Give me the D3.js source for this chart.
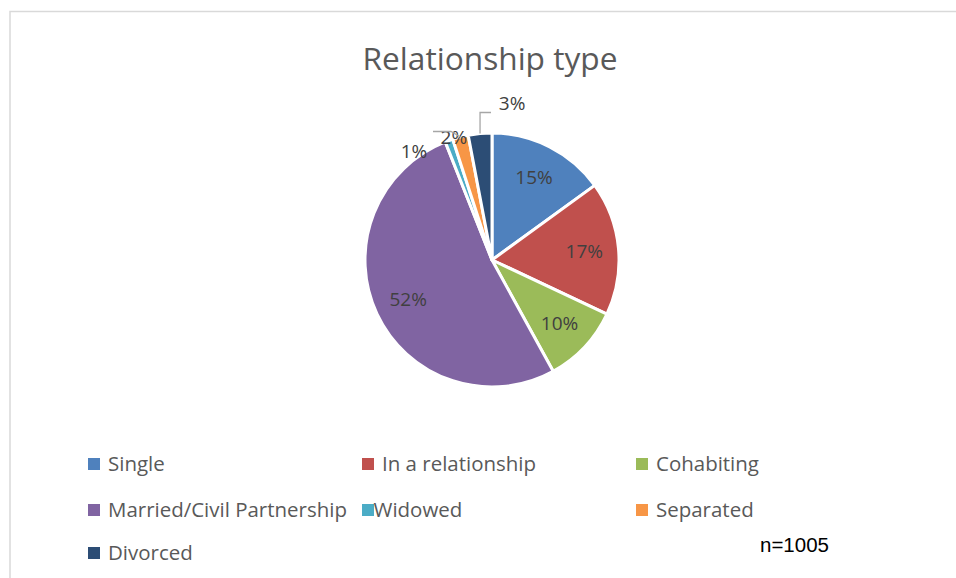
<!DOCTYPE html>
<html>
<head>
<meta charset="utf-8">
<script src="https://cdn.jsdelivr.net/npm/d3@7"></script>
<style>
  html, body { margin: 0; padding: 0; background: #fff; }
  svg { display: block; }
  text { font-family: "Open Sans", sans-serif; }
</style>
</head>
<body>
<svg id="chart" width="956" height="578"></svg>
<script>
// Relationship type of respondents (percent of n=1005)
const categories = ["Single", "In a relationship", "Cohabiting", "Married/Civil Partnership", "Widowed", "Separated", "Divorced"];
const percents   = [15, 17, 10, 52, 1, 2, 3];
const colors     = ["#4f81bd", "#c0504d", "#9bbb59", "#8064a2", "#4bacc6", "#f79646", "#2c4d75"];
const titleText  = "Relationship type";
const noteText   = "n=1005";

const W = 956, H = 578;
const svg = d3.select("#chart");

// Chart area frame (continues past the right and bottom edges)
svg.append("path")
  .attr("d", `M10,${H} L10,11.5 L${W},11.5`)
  .attr("fill", "none")
  .attr("stroke", "#d9d9d9")
  .attr("stroke-width", 1.5);

// Fit a text element's font size so its rendered width matches a target
function fitWidth(sel, target) {
  const base = parseFloat(sel.attr("font-size"));
  const w = sel.node().getComputedTextLength();
  if (w > 0) sel.attr("font-size", (base * target / w).toFixed(2));
  return sel;
}

// Title
const title = svg.append("text")
  .attr("x", 490).attr("y", 70)
  .attr("text-anchor", "middle")
  .attr("font-size", 28)
  .attr("fill", "#595959")
  .text(titleText);
fitWidth(title, 255);

// Pie
const cx = 492, cy = 260, R = 127;
const data = categories.map((c, i) => ({ name: c, value: percents[i], color: colors[i] }));
const pie = d3.pie().value(d => d.value).sort(null);
const arcs = pie(data);
const arc = d3.arc().innerRadius(0).outerRadius(R);

const g = svg.append("g").attr("transform", `translate(${cx},${cy})`);
g.selectAll("path.slice")
  .data(arcs)
  .join("path")
  .attr("class", "slice")
  .attr("d", arc)
  .attr("fill", d => d.data.color)
  .attr("stroke", "#fff")
  .attr("stroke-width", 3)
  .attr("stroke-linejoin", "round");

// Label font size fitted to the width of a two-digit label
const probe = g.append("text").attr("font-size", 19).text("15%");
const probeW = probe.node().getComputedTextLength();
const labelSize = 19 * 37.5 / probeW;
probe.remove();

// Inside labels for larger slices, outside labels (best-fit) for thin ones
const labelArc = d3.arc().innerRadius(R * 0.73).outerRadius(R * 0.73);
const outside = {
  // angle (degrees clockwise from 12 o'clock) and distance from the centre
  "Widowed":   { ang: -35.6, dist: 134 },
  "Separated": { ang: -17.2, dist: 129 },
  "Divorced":  { ang: 7.3,   dist: 158 }
};

arcs.forEach(a => {
  let x, y;
  const o = outside[a.data.name];
  if (o) {
    const t = o.ang * Math.PI / 180;
    x = Math.sin(t) * o.dist;
    y = -Math.cos(t) * o.dist;
  } else {
    [x, y] = labelArc.centroid(a);
  }
  g.append("text")
    .attr("x", x).attr("y", y)
    .attr("dy", "0.36em")
    .attr("text-anchor", "middle")
    .attr("font-size", labelSize.toFixed(2))
    .attr("fill", "#404040")
    .text(a.data.value + "%");
});

// Leader lines for the thin slices
const leader = d3.line();
const sepArc = arcs[5], divArc = arcs[6];
const edge = (a, r) => {
  const m = (a.startAngle + a.endAngle) / 2;
  return [Math.sin(m) * r, -Math.cos(m) * r];
};
const sEdge = edge(sepArc, R), dEdge = edge(divArc, R);
g.append("path")
  .attr("d", leader([[433 - cx, 131.5 - cy], [451 - cx, 131.5 - cy], sEdge]))
  .attr("fill", "none").attr("stroke", "#a6a6a6").attr("stroke-width", 1.3);
g.append("path")
  .attr("d", leader([[dEdge[0], dEdge[1]], [dEdge[0], 112.5 - cy], [491 - cx, 112.5 - cy]]))
  .attr("fill", "none").attr("stroke", "#a6a6a6").attr("stroke-width", 1.3);

// Legend: three columns, filled row by row
const colX = [88, 362, 636];
const rowY = [464, 510, 553];
const legend = svg.append("g");
let legendSize = 19;
{
  const t = legend.append("text").attr("font-size", 19).text(categories[3]);
  legendSize = 19 * 239 / t.node().getComputedTextLength();
  t.remove();
}
data.forEach((d, i) => {
  const x = colX[i % 3], y = rowY[Math.floor(i / 3)];
  legend.append("rect")
    .attr("x", x).attr("y", y - 6)
    .attr("width", 12).attr("height", 12)
    .attr("fill", d.color);
  legend.append("text")
    .attr("x", x + (d.name === "Widowed" ? 11.5 : 20))
    .attr("y", y)
    .attr("dy", "0.35em")
    .attr("font-size", legendSize.toFixed(2))
    .attr("fill", "#595959")
    .text(d.name);
});

// Sample size note
const note = svg.append("text")
  .attr("x", 760).attr("y", 552)
  .attr("font-family", "'Liberation Sans', Arial, sans-serif")
  .style("font-family", "'Liberation Sans', Arial, sans-serif")
  .attr("font-size", 19)
  .attr("fill", "#000")
  .text(noteText);
fitWidth(note, 69);
</script>
</body>
</html>
